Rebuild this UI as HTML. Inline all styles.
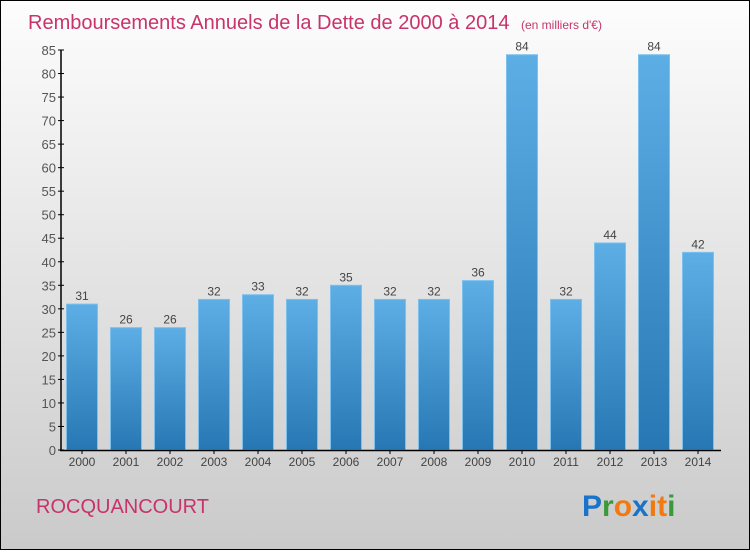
<!DOCTYPE html>
<html><head><meta charset="utf-8"><style>
body{margin:0;width:750px;height:550px;overflow:hidden;font-family:"Liberation Sans",sans-serif}
</style></head><body>
<svg id="c" width="750" height="550">
<defs>
<linearGradient id="bg" x1="0" y1="0" x2="0" y2="1"><stop offset="0" stop-color="#fdfdfd"/><stop offset="1" stop-color="#cacaca"/></linearGradient>
<linearGradient id="bar" x1="0" y1="0" x2="0" y2="1"><stop offset="0" stop-color="#5eaee6"/><stop offset="1" stop-color="#2677b3"/></linearGradient>
</defs>
<rect x="0.5" y="0.5" width="749" height="549" fill="url(#bg)" stroke="#000"/>
<text x="28" y="29" font-size="20" fill="#c8336a" font-weight="300">Remboursements Annuels de la Dette de 2000 à 2014 <tspan font-size="12" dx="6">(en milliers d'€)</tspan></text>
<text x="36" y="513" font-size="20" fill="#c8336a">ROCQUANCOURT</text>
<g font-size="30" font-weight="bold" font-family="Liberation Sans,sans-serif">
<text x="582" y="516" fill="#1a73c9">P<tspan fill="#3a9a3a">r</tspan><tspan fill="#f07a10">o</tspan><tspan fill="#1a73c9">x</tspan><tspan fill="#f07a10">i</tspan><tspan fill="#f07a10">t</tspan><tspan fill="#3a9a3a">i</tspan></text>
</g>
<g id="plot"></g>
</svg>
<script>
const categories=["2000","2001","2002","2003","2004","2005","2006","2007","2008","2009","2010","2011","2012","2013","2014"];
const values=[31,26,26,32,33,32,35,32,32,36,84,32,44,84,42];
const yTicks=[0,5,10,15,20,25,30,35,40,45,50,55,60,65,70,75,80,85];
const NS="http://www.w3.org/2000/svg";
const g=document.getElementById('plot');
const y0=450,yTop=50,yMax=85;
const y=v=>y0-(v/yMax)*(y0-yTop);
const x=i=>82+44*i;
function el(t,a,txt){const e=document.createElementNS(NS,t);for(const k in a)e.setAttribute(k,a[k]);if(txt!=null)e.textContent=txt;g.appendChild(e);return e;}
yTicks.forEach(v=>{
  const t=el('line',{x1:58,x2:64,y1:y(v),y2:y(v),stroke:'#000'});
  
  
  const l=el('text',{x:56,y:y(v)+5,'font-size':13,fill:'#555','text-anchor':'end'},v);
  
  
});
values.forEach((v,i)=>{
  const b=el('rect',{x:x(i)-15.5,y:y(v),width:31,height:y0-y(v),fill:'url(#bar)',stroke:'#7cc0ee','stroke-width':1});
  
  
  const t=el('text',{x:x(i),y:y(v)-4,'font-size':12,fill:'#444','text-anchor':'middle'},v);
  
  
  const c=el('text',{x:x(i),y:466,'font-size':12,fill:'#444','text-anchor':'middle'},categories[i]);
  
  
  const k=el('line',{x1:x(i),x2:x(i),y1:450,y2:454,stroke:'#000'});
  
  
});
const ya=el('line',{x1:61,x2:61,y1:50,y2:451,stroke:'#000','stroke-width':1.5});


const xa=el('line',{x1:60,x2:721,y1:450.5,y2:450.5,stroke:'#000','stroke-width':1.5});


</script>
</body></html>
